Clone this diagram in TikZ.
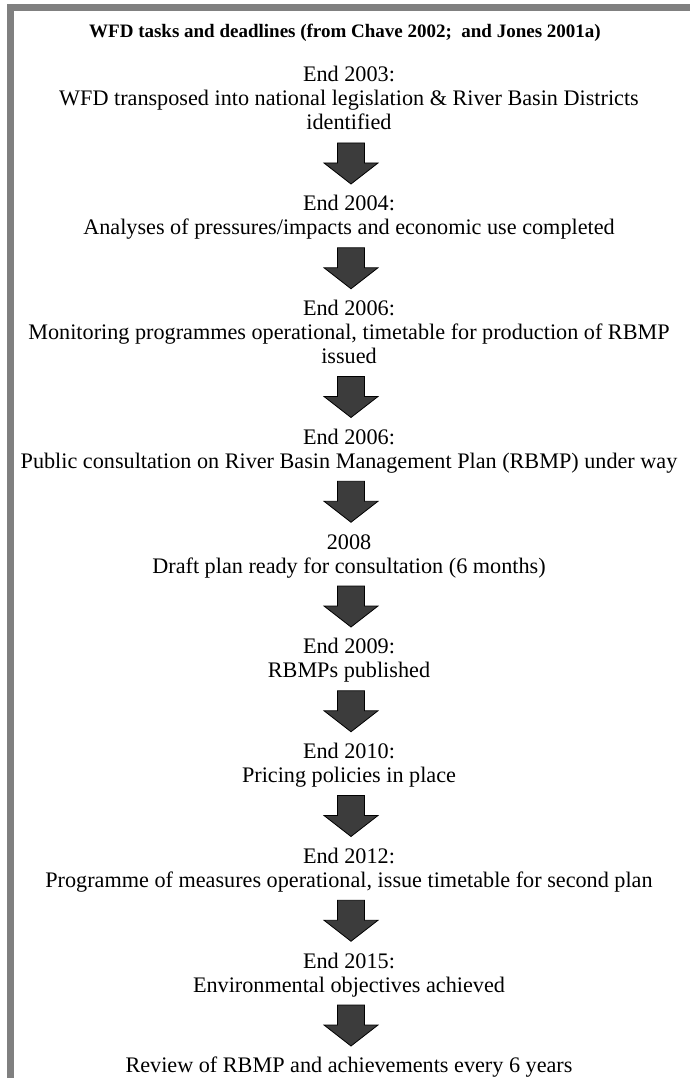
\documentclass[tikz,border=0pt]{standalone}
\usepackage{fontspec}
\setmainfont{Liberation Serif}
\usetikzlibrary{calc}
\definecolor{framegray}{HTML}{808080}
\definecolor{arrowfill}{HTML}{3C3C3C}
\tikzset{
  txt/.style={anchor=base, inner sep=0pt, font=\fontsize{22.2}{24}\selectfont},
  ttl/.style={anchor=base, inner sep=0pt, font=\fontsize{19}{22}\selectfont\bfseries},
  pics/downarrow/.style={code={
    \draw[line width=0.8pt, draw=black, fill=arrowfill, line join=miter]
      (-13.5,0) -- (13.5,0) -- (13.5,20) -- (27,20) -- (0,41) -- (-27,20) -- (-13.5,20) -- cycle;}}
}
\begin{document}
\begin{tikzpicture}[x=1pt,y=-1pt]
\useasboundingbox (0,0) rectangle (690,1078);
\fill[white] (0,0) rectangle (690,1078);
% frame
\fill[framegray] (7,4) rectangle (690,11);
\fill[framegray] (7,4) rectangle (14,1078);
% title
\node[ttl] (title) at (345,38) {WFD tasks and deadlines (from Chave 2002;\ \ and Jones 2001a)};
% blocks
\node[txt] (b1a) at (349,82) {End 2003:};
\node[txt] (b1b) at (349,106) {WFD transposed into national legislation \& River Basin Districts};
\node[txt] (b1c) at (349,130) {identified};
\node[txt] (b2a) at (349,210.75) {End 2004:};
\node[txt] (b2b) at (349,234.75) {Analyses of pressures/impacts and economic use completed};
\node[txt] (b3a) at (349,315.5) {End 2006:};
\node[txt] (b3b) at (349,339.5) {Monitoring programmes operational, timetable for production of RBMP};
\node[txt] (b3c) at (349,363.5) {issued};
\node[txt] (b4a) at (349,444.25) {End 2006:};
\node[txt] (b4b) at (349,468.25) {Public consultation on River Basin Management Plan (RBMP) under way};
\node[txt] (b5a) at (349,549) {2008};
\node[txt] (b5b) at (349,573) {Draft plan ready for consultation (6 months)};
\node[txt] (b6a) at (349,653.75) {End 2009:};
\node[txt] (b6b) at (349,677.75) {RBMPs published};
\node[txt] (b7a) at (349,758.5) {End 2010:};
\node[txt] (b7b) at (349,782.5) {Pricing policies in place};
\node[txt] (b8a) at (349,863.25) {End 2012:};
\node[txt] (b8b) at (349,887.25) {Programme of measures operational, issue timetable for second plan};
\node[txt] (b9a) at (349,968) {End 2015:};
\node[txt] (b9b) at (349,992) {Environmental objectives achieved};
\node[txt] (b10a) at (349,1072.75) {Review of RBMP and achievements every 6 years};
% block arrows
\pic at ($(b1c.base)+(2,13)$) {downarrow};
\pic at ($(b2b.base)+(2,13)$) {downarrow};
\pic at ($(b3c.base)+(2,13)$) {downarrow};
\pic at ($(b4b.base)+(2,13)$) {downarrow};
\pic at ($(b5b.base)+(2,13)$) {downarrow};
\pic at ($(b6b.base)+(2,13)$) {downarrow};
\pic at ($(b7b.base)+(2,13)$) {downarrow};
\pic at ($(b8b.base)+(2,13)$) {downarrow};
\pic at ($(b9b.base)+(2,13)$) {downarrow};
\end{tikzpicture}
\end{document}
